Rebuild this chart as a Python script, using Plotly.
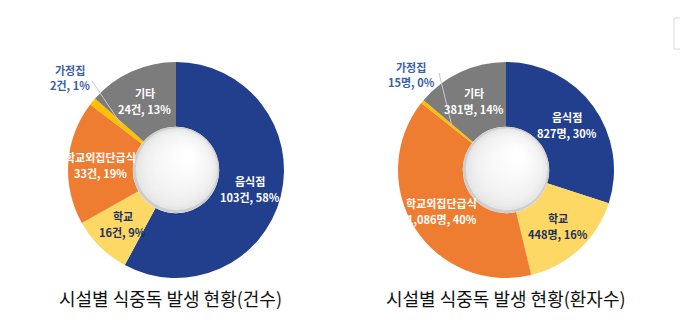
import math
import plotly.graph_objects as go

# ---- data -------------------------------------------------------------
categories = ["음식점", "학교", "학교외집단급식", "가정집", "기타"]
cases = [103, 16, 33, 2, 24]              # 건수
cases_pct = [58, 9, 19, 1, 13]
patients = [827, 448, 1086, 15, 381]      # 환자수
patients_pct = [30, 16, 40, 0, 14]
titles = ["시설별 식중독 발생 현황(건수)", "시설별 식중독 발생 현황(환자수)"]
units = ["건", "명"]

# ---- styling ----------------------------------------------------------
W, H = 680, 324
colors = ["#213f8d", "#fdd865", "#ee7d31", "#ffc000", "#7c7c7c"]
text_colors = ["white", "#1f2f5c", "white", "#3a5fa8", "white"]
FONT = "Noto Sans CJK KR"
R_OUT = 108
HOLE = 0.40
LABEL_R = 76
LINE_GAP = 8                              # half distance between the two label lines
centers = [(176, 170), (506, 170)]
outside_text = [(70, 78), (411, 74)]      # where the tiny 가정집 slice is labelled
leader_start = [(92, 81), (439, 73)]      # leader line start next to that label


def px_to_paper(x, y):
    return x / W, 1 - y / H


def slice_point(values, idx, center, r):
    total = sum(values)
    start = sum(values[:idx])
    mid = (start + values[idx] / 2) / total * 2 * math.pi
    cx, cy = center
    return cx + r * math.sin(mid), cy - r * math.cos(mid)


def two_line_label(x, y, line1, line2, color, gap):
    out = []
    for txt, dy in ((line1, -gap), (line2, gap)):
        px, py = px_to_paper(x, y + dy)
        out.append(dict(
            x=px, y=py, xref="paper", yref="paper", text=txt, showarrow=False,
            xanchor="center", yanchor="middle", align="center",
            font=dict(family=FONT, size=11, color=color, weight="bold"),
        ))
    return out


fig = go.Figure()
annotations = []
shapes = []

for k, (values, pcts, unit) in enumerate(
        [(cases, cases_pct, units[0]), (patients, patients_pct, units[1])]):
    cx, cy = centers[k]
    x0, y1 = px_to_paper(cx - R_OUT, cy - R_OUT)
    x1, y0 = px_to_paper(cx + R_OUT, cy + R_OUT)
    fig.add_trace(go.Pie(
        labels=categories, values=values, sort=False, direction="clockwise",
        rotation=0, hole=HOLE, textinfo="none", hoverinfo="label+value",
        marker=dict(colors=colors, line=dict(width=0)),
        domain=dict(x=[x0, x1], y=[y0, y1]), showlegend=False,
    ))

    for i, name in enumerate(categories):
        value_txt = f"{values[i]:,}{unit}, {pcts[i]}%"
        if name == "가정집":
            hx, hy = slice_point(values, i, centers[k], 70)
            sx, sy = leader_start[k]
            p0 = px_to_paper(sx, sy)
            p1 = px_to_paper(hx, hy)
            shapes.append(dict(type="line", xref="paper", yref="paper",
                               x0=p0[0], y0=p0[1], x1=p1[0], y1=p1[1],
                               layer="above", line=dict(color="#c8c8c8", width=1)))
            tx, ty = outside_text[k]
            annotations += two_line_label(tx, ty, name, value_txt, text_colors[i], 7.5)
        else:
            lx, ly = slice_point(values, i, centers[k], LABEL_R)
            annotations += two_line_label(lx, ly, name, value_txt, text_colors[i], LINE_GAP)

    # softly shaded sphere filling the hole (light from the upper right)
    r_h = R_OUT * HOLE
    n = 18
    for j in range(n):
        t = j / (n - 1)
        rr = r_h * (1 - 0.85 * t)
        off = (r_h - rr) * 0.55
        ccx, ccy = cx + off * 0.6, cy - off * 0.7
        g = int(206 + (255 - 206) * (t ** 0.25))
        ax0, ay1 = px_to_paper(ccx - rr, ccy - rr)
        ax1, ay0 = px_to_paper(ccx + rr, ccy + rr)
        shapes.append(dict(type="circle", xref="paper", yref="paper",
                           x0=ax0, x1=ax1, y0=ay0, y1=ay1, layer="above",
                           fillcolor=f"rgb({g},{g},{g})", line=dict(width=0)))

    # caption under each donut
    tx, ty = px_to_paper(cx - 6 if k == 0 else cx, 298)
    annotations.append(dict(
        x=tx, y=ty, xref="paper", yref="paper", text=titles[k], showarrow=False,
        xanchor="center", yanchor="middle",
        font=dict(family=FONT, size=18, color="#111111"),
    ))

# faint frame fragment at the top-right edge
fx0, fy1 = px_to_paper(674, 18)
fx1, fy0 = px_to_paper(690, 49)
shapes.append(dict(type="rect", xref="paper", yref="paper", x0=fx0, x1=fx1,
                   y0=fy0, y1=fy1, line=dict(color="#d9d9d9", width=1)))

fig.update_layout(
    width=W, height=H, margin=dict(l=0, r=0, t=0, b=0),
    paper_bgcolor="white", plot_bgcolor="white",
    annotations=annotations, shapes=shapes,
)

fig.write_html("out.html")
